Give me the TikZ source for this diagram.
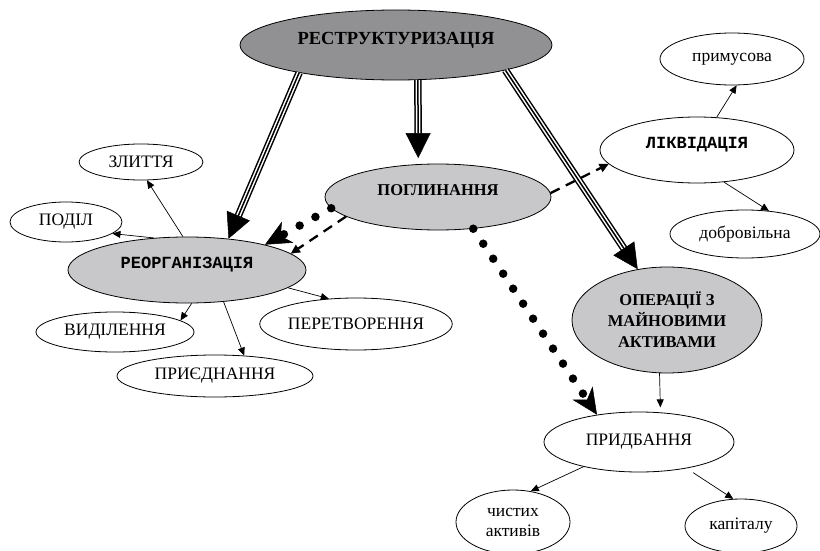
\documentclass[tikz,border=0pt]{standalone}
\usepackage{fontspec}
\setmainfont{Liberation Serif}
\newfontfamily\courfont{Liberation Mono}
\usetikzlibrary{shapes.geometric,arrows.meta}
\definecolor{darkFill}{RGB}{145,145,147}
\definecolor{lightFill}{RGB}{200,200,202}
\tikzstyle{ovalNode}=[draw,ellipse,inner sep=0pt,line width=0.8pt,align=center,font=\fontsize{17.5}{20}\selectfont]
\tikzstyle{raised}=[text depth=14pt]
\tikzstyle{boldText}=[font=\fontsize{16.5}{21}\selectfont\bfseries]
\tikzstyle{monoText}=[font=\fontsize{17}{20}\selectfont\courfont\bfseries]
\tikzstyle{thinArrow}=[-{Triangle[length=8pt,width=7pt]},line width=0.7pt]
\tikzstyle{dashArrow}=[-{Triangle[length=9pt,width=9pt,line width=0.5pt]},line width=2.3pt,dash pattern=on 10pt off 7pt]
\tikzstyle{dotArrow}=[-{Stealth[length=26pt,width=24pt,inset=8pt,line width=0.5pt]},line width=8.5pt,line cap=round,dash pattern=on 0pt off 18pt]
\tikzstyle{tripleArrow}=[-{Triangle[length=25pt,width=25pt,line width=0.5pt]},line width=1.5pt,
	preaction={draw,-,line width=7.5pt,shorten >=22pt},
	preaction={draw,-,white,line width=4.5pt,shorten >=22pt}]

\begin{document}
\begin{tikzpicture}[x=1pt,y=-1pt]
	\useasboundingbox (0,0) rectangle (820,551);

	\node[ovalNode, raised, fill=darkFill, minimum width=312pt, minimum height=70pt, font=\fontsize{18.5}{22}\selectfont\bfseries] (restr) at (396,45) {РЕСТРУКТУРИЗАЦІЯ};
	\node[ovalNode, raised, boldText, fill=lightFill, minimum width=226pt, minimum height=66pt] (pogl) at (438,197) {ПОГЛИНАННЯ};
	\node[ovalNode, raised, monoText, fill=lightFill, minimum width=238pt, minimum height=66pt] (reorg) at (187,270) {РЕОРГАНІЗАЦІЯ};
	\node[ovalNode, raised, monoText, minimum width=194pt, minimum height=66pt] (likv) at (697,150) {ЛІКВІДАЦІЯ};
	\node[ovalNode, boldText, fill=lightFill, minimum width=190pt, minimum height=106pt] (operac) at (667,320) {ОПЕРАЦІЇ З\\МАЙНОВИМИ\\АКТИВАМИ};

	\node[ovalNode, minimum width=124pt, minimum height=36pt] (zlyt) at (141,162) {ЗЛИТТЯ};
	\node[ovalNode, minimum width=112pt, minimum height=40pt] (podil) at (66,222) {ПОДІЛ};
	\node[ovalNode, minimum width=158pt, minimum height=40pt] (vydil) at (115,332) {ВИДІЛЕННЯ};
	\node[ovalNode, minimum width=196pt, minimum height=42pt] (pryed) at (215,376) {ПРИЄДНАННЯ};
	\node[ovalNode, minimum width=192pt, minimum height=52pt] (peretv) at (356,324) {ПЕРЕТВОРЕННЯ};
	\node[ovalNode, minimum width=144pt, minimum height=52pt] (prymus) at (732,59) {примусова};
	\node[ovalNode, minimum width=150pt, minimum height=48pt] (dobrov) at (745,234) {добровільна};
	\node[ovalNode, minimum width=190pt, minimum height=60pt] (prydb) at (639,442) {ПРИДБАННЯ};
	\node[ovalNode, minimum width=114pt, minimum height=64pt] (chyst) at (513,522) {чистих\\активів};
	\node[ovalNode, minimum width=112pt, minimum height=54pt] (kapit) at (741,526) {капіталу};

	\draw[tripleArrow] (restr.196.8) -- (reorg.37.8);
	\draw[tripleArrow, shorten >=6pt] (restr.302.4) -- (pogl.121.6);
	\draw[tripleArrow] (restr.347.5) -- (operac.120);

	\draw[dotArrow] (pogl.186) -- (reorg.18.2);
	\draw[dotArrow] (pogl.318.3) -- (prydb.147.8);

	\draw[dashArrow] (pogl.192.5) -- (reorg.9.5);
	\draw[dashArrow] (pogl.2.5) -- (likv.189.3);

	\draw[thinArrow] (reorg.97) -- (zlyt.288.4);
	\draw[thinArrow] (reorg.136.7) -- (podil.346.8);
	\draw[thinArrow] (reorg.278.6) -- (vydil.10);
	\draw[thinArrow] (reorg.319.7) -- (pryed.35.7);
	\draw[thinArrow] (reorg.350.4) -- (peretv.137.6);

	\draw[thinArrow] (likv.59.3) -- (prymus.280.9);
	\draw[thinArrow] (likv.310.9) -- (dobrov.44.8);

	\draw[thinArrow, shorten >=5pt] (operac.262.5) -- (prydb.54.4);
	\draw[thinArrow] (prydb.204.6) -- (chyst.60.9);
	\draw[thinArrow, shorten <=8pt] (prydb.331.6) -- (kapit.106.7);
\end{tikzpicture}
\end{document}
